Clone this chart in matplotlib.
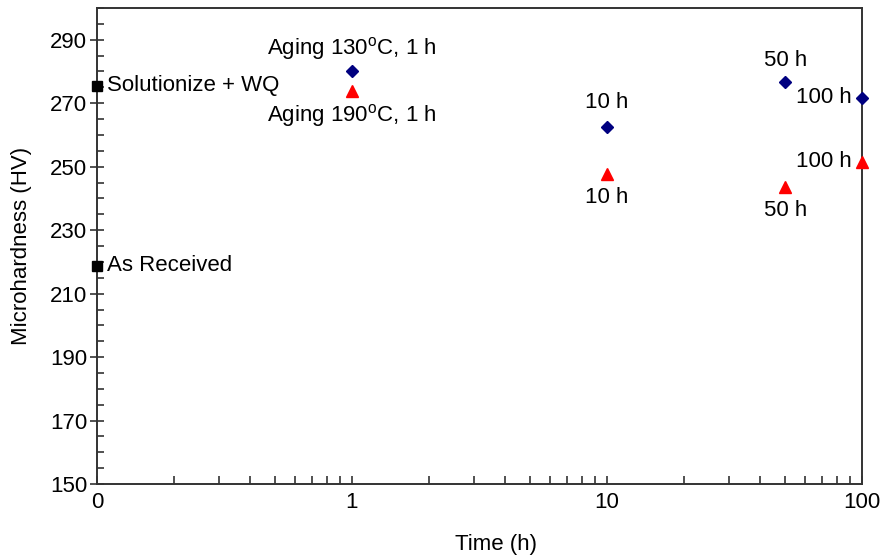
import matplotlib
matplotlib.use("Agg")
import matplotlib.pyplot as plt
from matplotlib.ticker import FixedLocator, LogLocator, MultipleLocator, NullFormatter

plt.rcParams['font.family'] = ['Liberation Sans', 'DejaVu Sans']
plt.rcParams['mathtext.fontset'] = 'custom'
plt.rcParams['mathtext.rm'] = 'Liberation Sans'

# data (time 0 drawn at the left edge of the log axis, 0.1)
ref_time = [0.1, 0.1]
ref_hv = [275.5, 218.8]
ref_labels = ["Solutionize + WQ", "As Received"]

time_h = [1, 10, 50, 100]
hv_130 = [280.1, 262.5, 276.6, 271.7]
hv_190 = [273.7, 247.6, 243.5, 251.6]
lab_130 = [r"Aging 130$^{\mathrm{o}}$C, 1 h", "10 h", "50 h", "100 h"]
lab_190 = [r"Aging 190$^{\mathrm{o}}$C, 1 h", "10 h", "50 h", "100 h"]

xticks = [0.1, 1, 10, 100]
xticklabels = ["0", "1", "10", "100"]

fig = plt.figure(figsize=(8.84, 5.59), dpi=100)
ax = fig.add_axes([0.1097, 0.134, 0.8653, 0.8517])

ax.plot(ref_time, ref_hv, 's', color='black', ms=7, clip_on=False, zorder=5)
ax.plot(time_h, hv_130, 'D', color='#000080', ms=6.5, clip_on=False, zorder=5)
ax.plot(time_h, hv_190, '^', color='red', ms=8.5, clip_on=False, zorder=5)

fs = 16
for t, v, s in zip(ref_time, ref_hv, ref_labels):
    ax.annotate(s, (t, v), xytext=(10, 0), textcoords='offset pixels',
                ha='left', va='center', fontsize=fs)

# label offsets in pixels for each point
off_130 = [(0, 23, 'center'), (0, 25, 'center'), (0, 22, 'center'), (-10, 0, 'right')]
off_190 = [(0, -24, 'center'), (0, -23, 'center'), (0, -23, 'center'), (-10, 0, 'right')]
for t, v, s, (dx, dy, ha) in zip(time_h, hv_130, lab_130, off_130):
    ax.annotate(s, (t, v), xytext=(dx, dy), textcoords='offset pixels',
                ha=ha, va='center', fontsize=fs)
for t, v, s, (dx, dy, ha) in zip(time_h, hv_190, lab_190, off_190):
    ax.annotate(s, (t, v), xytext=(dx, dy), textcoords='offset pixels',
                ha=ha, va='center', fontsize=fs)

ax.set_xscale('log')
ax.set_xlim(0.1, 100)
ax.set_ylim(150, 300)
ax.xaxis.set_major_locator(FixedLocator(xticks))
ax.set_xticklabels(xticklabels)
ax.xaxis.set_minor_locator(LogLocator(base=10, subs=range(2, 10)))
ax.xaxis.set_minor_formatter(NullFormatter())
ax.yaxis.set_major_locator(FixedLocator(range(150, 300, 20)))
ax.yaxis.set_minor_locator(MultipleLocator(5))

for sp in ax.spines.values():
    sp.set_color('#333333')
    sp.set_linewidth(1.4)
ax.tick_params(axis='x', which='both', direction='in', length=6, width=1.2,
               color='#333333', labelsize=fs, pad=6)
ax.tick_params(axis='y', which='major', direction='inout', length=10, width=1.2,
               color='#333333', labelsize=fs, pad=2)
ax.tick_params(axis='y', which='minor', direction='in', length=5, width=1.2,
               color='#333333')

ax.set_xlabel("Time (h)", fontsize=fs)
ax.set_ylabel("Microhardness (HV)", fontsize=fs)
ax.xaxis.set_label_coords(0.521, -0.105)
ax.yaxis.set_label_coords(-0.085, 0.5)

fig.savefig("out.png", dpi=100)
